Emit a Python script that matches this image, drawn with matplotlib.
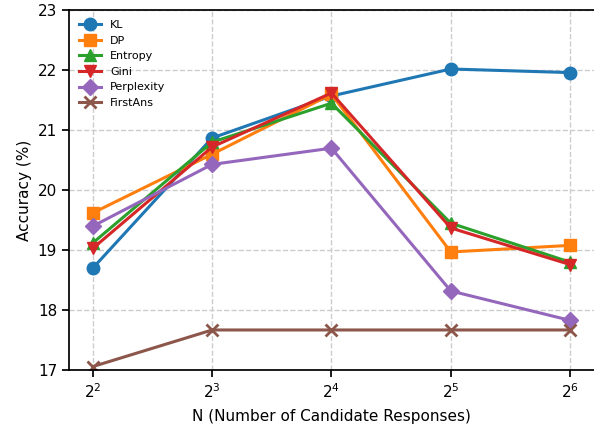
import matplotlib
matplotlib.use('Agg')
import matplotlib.pyplot as plt

n_values = [4, 8, 16, 32, 64]
kl = [18.70, 20.87, 21.57, 22.02, 21.96]
dp = [19.62, 20.60, 21.60, 18.97, 19.08]
entropy = [19.12, 20.80, 21.45, 19.45, 18.80]
gini = [19.03, 20.72, 21.62, 19.37, 18.76]
perplexity = [19.40, 20.43, 20.70, 18.32, 17.83]
first_ans = [17.06, 17.67, 17.67, 17.67, 17.67]

series = [
    ('KL', kl, 'o', 'tab:blue'),
    ('DP', dp, 's', 'tab:orange'),
    ('Entropy', entropy, '^', 'tab:green'),
    ('Gini', gini, 'v', 'tab:red'),
    ('Perplexity', perplexity, 'D', 'tab:purple'),
    ('FirstAns', first_ans, 'x', 'tab:brown'),
]

fig, ax = plt.subplots(figsize=(5.94, 4.25), dpi=100)
for name, vals, m, c in series:
    ms = 9 if m != 'D' else 8
    ax.plot(n_values, vals, marker=m, color=c, label=name, linewidth=2.2,
            markersize=ms, markeredgewidth=2 if m == 'x' else 1)

ax.set_xscale('log', base=2)
ax.set_xlim(2 ** 1.8, 2 ** 6.2)
ax.set_xticks(n_values)
ax.set_xticklabels([r'$2^{%d}$' % k for k in range(2, 7)])
ax.minorticks_off()
ax.set_ylim(17, 23)
ax.set_xlabel('N (Number of Candidate Responses)', fontsize=11, labelpad=6)
ax.set_ylabel('Accuracy (%)', fontsize=11)
ax.tick_params(labelsize=11, width=1.25, length=5)
for s in ax.spines.values():
    s.set_linewidth(1.25)
ax.spines['right'].set_visible(False)  # cut off at image edge in the original
ax.grid(True, linestyle='--', color='#cccccc', linewidth=1)
ax.legend(loc='upper left', fontsize=8, frameon=False)

plt.subplots_adjust(left=0.116, right=1.0, top=0.976, bottom=0.129)
plt.savefig('out.png')
